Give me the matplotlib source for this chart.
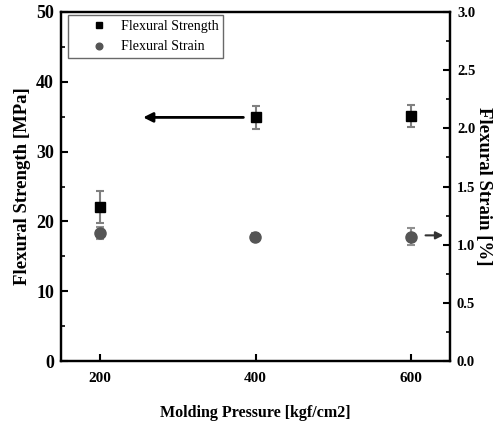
#!/usr/bin/env python3
"""Flexural strength / strain vs molding pressure (dual axis)."""
import matplotlib
matplotlib.use('Agg')
import matplotlib.pyplot as plt

plt.rcParams['font.family'] = ['Liberation Serif', 'DejaVu Serif']

pressure = [200, 400, 600]
strength = [22.0, 34.9, 35.1]
strength_err = [2.3, 1.6, 1.6]
strain = [1.10, 1.07, 1.07]
strain_err = [0.05, 0.03, 0.07]

fig = plt.figure(figsize=(4.99, 4.22), dpi=100)
ax = fig.add_axes([61 / 499, 1 - 361 / 422, 389 / 499, 349 / 422])
ax2 = ax.twinx()

ax.errorbar(pressure, strength, yerr=strength_err, fmt='s', color='black', ms=7,
            ecolor='#808080', elinewidth=1.5, capsize=3, capthick=1.5,
            label='Flexural Strength', zorder=3)
ax2.errorbar(pressure, strain, yerr=strain_err, fmt='o', color='#555555', ms=8,
             ecolor='#909090', elinewidth=1.5, capsize=3, capthick=1.5,
             label='Flexural Strain', zorder=3)

ax.set_xlim(150, 650)
ax.set_ylim(0, 50)
ax2.set_ylim(0, 3.0)
ax.set_xticks(pressure)
ax.set_yticks([0, 10, 20, 30, 40, 50])
ax.set_yticks([5, 15, 25, 35, 45], minor=True)
ax2.set_yticks([0.0, 0.5, 1.0, 1.5, 2.0, 2.5, 3.0])
ax2.set_yticks([0.25, 0.75, 1.25, 1.75, 2.25, 2.75], minor=True)
ax2.set_yticklabels([f'{v:.1f}' for v in [0.0, 0.5, 1.0, 1.5, 2.0, 2.5, 3.0]])

for a in (ax, ax2):
    for s in a.spines.values():
        s.set_linewidth(1.6)
ax.tick_params(axis='both', which='major', direction='in', length=5, width=1.5,
               top=False, right=False)
ax.tick_params(axis='y', labelsize=13, pad=5)
ax.tick_params(axis='x', labelsize=11, pad=8)
ax.tick_params(axis='y', which='minor', direction='in', length=3, width=1.2)
ax.tick_params(axis='x', which='minor', bottom=False)
ax2.tick_params(axis='y', which='major', direction='in', length=5, width=1.5,
                labelsize=10.5, pad=5)
ax2.tick_params(axis='y', which='minor', direction='in', length=3, width=1.2)
for lab in ax.get_xticklabels() + ax.get_yticklabels() + ax2.get_yticklabels():
    lab.set_fontweight('bold')

ax.set_xlabel('Molding Pressure [kgf/cm2]', fontsize=11.5, fontweight='bold', labelpad=14)
ax.set_ylabel('Flexural Strength [MPa]', fontsize=13.5, fontweight='bold', labelpad=4)
ax2.set_ylabel('Flexural Strain [%]', fontsize=13.5, fontweight='bold', rotation=270,
               labelpad=12)

# arrows pointing to the matching axis
ax.annotate('', xy=(252, 34.9), xytext=(388, 34.9),
            arrowprops=dict(arrowstyle='-|>', color='black', lw=2, mutation_scale=14))
ax2.annotate('', xy=(645, 1.08), xytext=(615, 1.08),
             arrowprops=dict(arrowstyle='-|>', color='#333333', lw=1.5, mutation_scale=11))

h1, l1 = ax.get_legend_handles_labels()
h2, l2 = ax2.get_legend_handles_labels()
h1 = [h[0] for h in h1]
h2 = [h[0] for h in h2]
leg = ax.legend(h1 + h2, l1 + l2, loc='upper left', bbox_to_anchor=(0.018, 0.99),
                fontsize=10.1, frameon=True, fancybox=False, edgecolor='#444444',
                markerscale=0.6, borderaxespad=0.0, handletextpad=-0.3,
                handlelength=3.7, borderpad=0.35)
leg.get_frame().set_linewidth(1.0)

fig.savefig('out.png', dpi=100)
